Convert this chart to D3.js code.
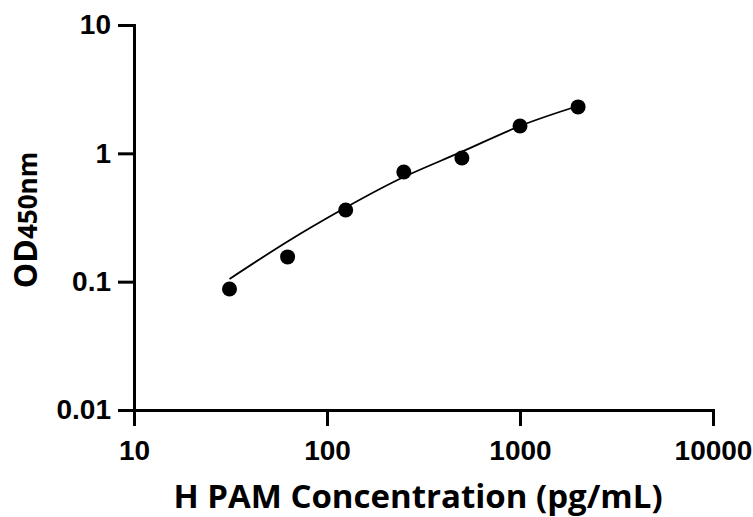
<!DOCTYPE html>
<html><head><meta charset="utf-8">
<script src="https://cdn.jsdelivr.net/npm/d3@7"></script>
<style>body{margin:0;background:#fff}svg{display:block}</style>
</head><body>
<svg id="c" width="753" height="517"></svg>
<script>
const concentrations = [31.25, 62.5, 125, 250, 500, 1000, 2000];
const odValues = [0.0877, 0.156, 0.362, 0.716, 0.92, 1.635, 2.30];
const fitX = [31.25, 62.5, 125, 250, 500, 1000, 2000];
const fitY = [0.1049, 0.2056, 0.378, 0.654, 1.03, 1.633, 2.339];
const xTicks = [10, 100, 1000, 10000];
const yTicks = [0.01, 0.1, 1, 10];
const xTitle = "H PAM Concentration (pg/mL)";

const svg = d3.select("#c");
const x = d3.scaleLog().domain([10, 10000]).range([134, 713]);
const y = d3.scaleLog().domain([0.01, 10]).range([410, 25]);

const xAxis = svg.append("g").attr("transform", "translate(0,410)")
  .call(d3.axisBottom(x).tickValues(xTicks).tickFormat(d3.format("d")).tickSize(16).tickPadding(14));
const yAxis = svg.append("g").attr("transform", "translate(134,0)")
  .call(d3.axisLeft(y).tickValues(yTicks).tickFormat(d => String(d)).tickSize(16).tickPadding(7));
[xAxis, yAxis].forEach(a => {
  a.select(".domain").attr("stroke", "#000").attr("stroke-width", 3);
  a.selectAll(".tick line").attr("stroke", "#000").attr("stroke-width", 3);
  a.selectAll("text").attr("fill", "#000").style("font-family", "'Liberation Sans', Arial, sans-serif")
    .style("font-weight", "bold").style("font-size", "28px");
});

const fit = fitX.map((d, i) => [d, fitY[i]]);
svg.append("path").datum(fit)
  .attr("fill", "none").attr("stroke", "#000").attr("stroke-width", 1.8)
  .attr("d", d3.line().x(d => x(d[0])).y(d => y(d[1])).curve(d3.curveNatural));

svg.append("g").selectAll("circle").data(concentrations).join("circle")
  .attr("cx", d => x(d)).attr("cy", (d, i) => y(odValues[i])).attr("r", 7.5).attr("fill", "#000");

svg.append("text").attr("x", 418).attr("y", 508).attr("text-anchor", "middle")
  .style("font-family", "'Open Sans', 'Noto Sans', sans-serif").style("font-weight", "bold")
  .style("font-size", "33px").text(xTitle);

const yl = svg.append("text").attr("transform", "translate(37,220) rotate(-90)").attr("text-anchor", "middle")
  .style("font-family", "'Open Sans', 'Noto Sans', sans-serif").style("font-weight", "bold").style("font-size", "32px");
yl.append("tspan").text("OD");
yl.append("tspan").style("font-size", "26px").text("450nm");
</script>
</body></html>
